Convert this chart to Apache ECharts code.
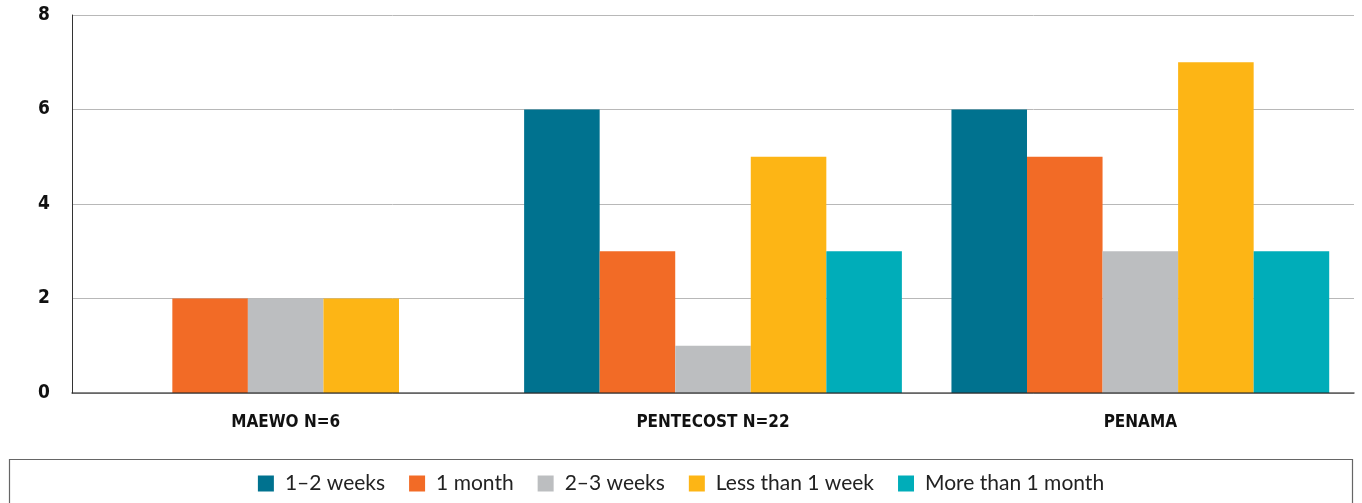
<!DOCTYPE html>
<html>
<head>
<meta charset="utf-8">
<style>
  html, body { margin: 0; padding: 0; background: #fff; }
  #chart { width: 1362px; height: 503px; }
</style>
<script src="https://cdn.jsdelivr.net/npm/echarts@6/dist/echarts.min.js"></script>
</head>
<body>
<div id="chart"></div>
<script>
// Islands and reported durations
const categories = ['MAEWO N=6', 'PENTECOST N=22', 'PENAMA'];
const seriesNames = ['1–2 weeks', '1 month', '2–3 weeks', 'Less than 1 week', 'More than 1 month'];
const weeks1to2 = [0, 6, 6];
const month1 = [2, 3, 5];
const weeks2to3 = [2, 1, 3];
const lessThan1Week = [2, 5, 7];
const moreThan1Month = [0, 3, 3];
const yTicks = [0, 2, 4, 6, 8];

const colors = ['#00728f', '#f26b26', '#bcbec0', '#fdb515', '#00adb9'];
const values = [weeks1to2, month1, weeks2to3, lessThan1Week, moreThan1Month];

const axisFont = "'DejaVu Sans Condensed', 'Liberation Sans Narrow', sans-serif";

const chart = echarts.init(document.getElementById('chart'), null, { renderer: 'canvas' });
chart.setOption({
  animation: false,
  color: colors,
  grid: { left: 72, right: 8, top: 15, bottom: 110, containLabel: false },
  graphic: [{
    type: 'rect',
    z: -1,
    shape: { x: 9.5, y: 459.5, width: 1343, height: 60 },
    style: { fill: '#fff', stroke: '#666', lineWidth: 1.2 }
  }],
  legend: {
    top: 468,
    left: 'center',
    itemWidth: 16,
    itemHeight: 16,
    itemGap: 24,
    icon: 'rect',
    textStyle: { fontFamily: "'Lato', 'Open Sans', sans-serif", fontSize: 21, color: '#222', padding: [0, 0, 0, 6] },
    data: seriesNames
  },
  xAxis: {
    type: 'category',
    data: categories,
    z: 5,
    axisLine: { lineStyle: { color: 'rgba(40,40,40,0.75)', width: 1.5 } },
    axisTick: { show: false },
    axisLabel: {
      margin: 21,
      fontFamily: axisFont,
      fontWeight: 'bold',
      fontSize: 17,
      color: '#111'
    }
  },
  yAxis: {
    type: 'value',
    min: yTicks[0],
    max: yTicks[yTicks.length - 1],
    interval: 2,
    axisLine: { show: true, lineStyle: { color: '#333', width: 1 } },
    axisTick: { show: false },
    splitLine: { lineStyle: { color: '#b8b8b8', width: 1 } },
    axisLabel: {
      margin: 22,
      fontFamily: axisFont,
      fontWeight: 'bold',
      fontSize: 19,
      color: '#111'
    }
  },
  series: seriesNames.map((name, i) => ({
    name,
    type: 'bar',
    data: values[i],
    barGap: '0%',
    barCategoryGap: '11.6%',
    itemStyle: { color: colors[i] }
  }))
});
</script>
</body>
</html>
